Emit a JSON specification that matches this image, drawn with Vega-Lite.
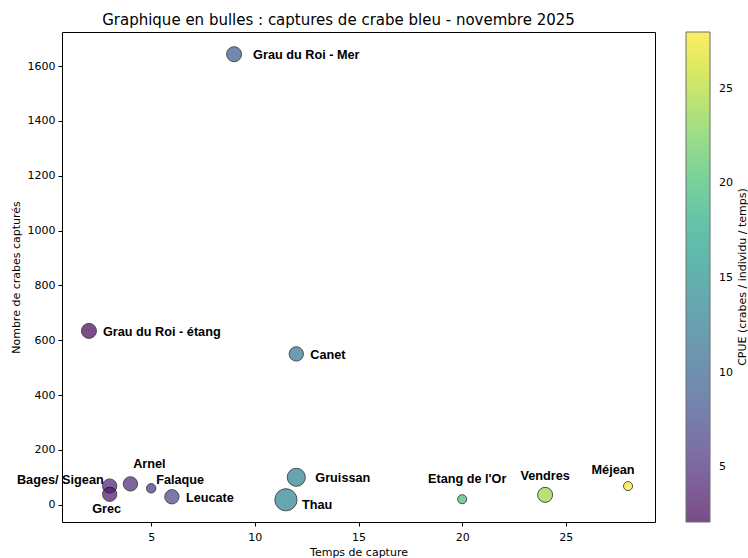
{
  "$schema": "https://vega.github.io/schema/vega-lite/v6.json",
  "width": 593,
  "height": 490,
  "autosize": "none",
  "padding": {"left": 62, "top": 32, "right": 93, "bottom": 36},
  "background": "white",
  "config": {
    "font": "DejaVu Sans",
    "view": {"stroke": "black", "strokeWidth": 1},
    "axis": {
      "grid": false,
      "domain": false,
      "tickColor": "black",
      "tickSize": 4,
      "tickWidth": 1,
      "labelFont": "DejaVu Sans",
      "labelFontSize": 11,
      "labelColor": "black",
      "titleFont": "DejaVu Sans",
      "titleFontSize": 11,
      "titleFontWeight": "normal",
      "titleColor": "black"
    }
  },
  "title": {
    "text": "Graphique en bulles : captures de crabe bleu - novembre 2025",
    "font": "DejaVu Sans",
    "fontSize": 15,
    "fontWeight": "normal",
    "color": "black",
    "anchor": "middle",
    "dx": -20,
    "offset": 4
  },
  "data": {
    "values": [
      {"site": "Grau du Roi - Mer", "temps": 9, "captures": 1643, "cpue": 9, "individus": 5.5},
      {"site": "Grau du Roi - étang", "temps": 2, "captures": 634, "cpue": 2.3, "individus": 5.5},
      {"site": "Canet", "temps": 12, "captures": 550, "cpue": 12, "individus": 5},
      {"site": "Gruissan", "temps": 12, "captures": 100, "cpue": 13, "individus": 8},
      {"site": "Thau", "temps": 11.5, "captures": 18, "cpue": 13.5, "individus": 12},
      {"site": "Leucate", "temps": 6, "captures": 29, "cpue": 7, "individus": 5},
      {"site": "Falaque", "temps": 5, "captures": 60, "cpue": 5.5, "individus": 2.2},
      {"site": "Arnel", "temps": 4, "captures": 76, "cpue": 4.5, "individus": 5},
      {"site": "Bages/ Sigean", "temps": 3, "captures": 68, "cpue": 4, "individus": 5},
      {"site": "Grec", "temps": 3, "captures": 38, "cpue": 3.5, "individus": 5},
      {"site": "Etang de l'Or", "temps": 20, "captures": 20, "cpue": 20, "individus": 2},
      {"site": "Vendres", "temps": 24, "captures": 36, "cpue": 24, "individus": 5.5},
      {"site": "Méjean", "temps": 28, "captures": 68, "cpue": 28, "individus": 2}
    ]
  },
  "encoding": {
    "x": {
      "field": "temps",
      "type": "quantitative",
      "scale": {"domain": [0.7, 29.3], "nice": false, "zero": false},
      "axis": {"title": "Temps de capture", "values": [5, 10, 15, 20, 25], "labelPadding": 5, "titlePadding": 4}
    },
    "y": {
      "field": "captures",
      "type": "quantitative",
      "scale": {"domain": [-63, 1724], "nice": false, "zero": false},
      "axis": {"title": "Nombre de crabes capturés", "format": "d", "values": [0, 200, 400, 600, 800, 1000, 1200, 1400, 1600], "labelPadding": 3, "titlePadding": 6}
    }
  },
  "layer": [
    {
      "mark": {"type": "circle", "opacity": 0.7, "stroke": "black", "strokeWidth": 1},
      "encoding": {
        "size": {"field": "individus", "type": "quantitative", "scale": {"type": "linear", "domain": [0, 12], "range": [0, 491]}, "legend": null},
        "color": {
          "field": "cpue",
          "type": "quantitative",
          "scale": {"scheme": "viridis", "domain": [2.1, 28], "nice": false, "zero": false},
          "legend": {
            "title": "CPUE (crabes / individu / temps)",
            "orient": "right",
            "offset": 31,
            "padding": 0,
            "direction": "vertical",
            "gradientLength": 490,
            "gradientThickness": 24,
            "gradientStrokeColor": "#333",
            "gradientStrokeWidth": 1,
            "values": [5, 10, 15, 20, 25],
            "labelFont": "DejaVu Sans",
            "labelFontSize": 11,
            "labelColor": "black",
            "labelOffset": 9,
            "titleOrient": "right",
            "titleAnchor": "middle",
            "titleFont": "DejaVu Sans",
            "titleFontSize": 11,
            "titleFontWeight": "normal",
            "titleColor": "black",
            "titlePadding": 4,
            "titleLimit": 600,
            "encoding": {"title": {"angle": {"value": -90}, "baseline": {"value": "top"}}}
          }
        }
      }
    },
    {
      "transform": [{"filter": {"field": "site", "oneOf": ["Grau du Roi - étang", "Canet", "Leucate"]}}],
      "mark": {"type": "text", "font": "Liberation Sans", "fontWeight": "bold", "fontSize": 12.7, "color": "black", "align": "left", "baseline": "middle", "dx": 14, "dy": 1},
      "encoding": {"text": {"field": "site"}}
    },
    {
      "transform": [{"filter": {"field": "site", "oneOf": ["Grau du Roi - Mer", "Gruissan"]}}],
      "mark": {"type": "text", "font": "Liberation Sans", "fontWeight": "bold", "fontSize": 12.7, "color": "black", "align": "left", "baseline": "middle", "dx": 19, "dy": 1},
      "encoding": {"text": {"field": "site"}}
    },
    {
      "transform": [{"filter": {"field": "site", "equal": "Thau"}}],
      "mark": {"type": "text", "font": "Liberation Sans", "fontWeight": "bold", "fontSize": 12.7, "color": "black", "align": "left", "baseline": "middle", "dx": 16, "dy": 5},
      "encoding": {"text": {"field": "site"}}
    },
    {
      "transform": [{"filter": {"field": "site", "equal": "Falaque"}}],
      "mark": {"type": "text", "font": "Liberation Sans", "fontWeight": "bold", "fontSize": 12.7, "color": "black", "align": "left", "baseline": "middle", "dx": 5, "dy": -8},
      "encoding": {"text": {"field": "site"}}
    },
    {
      "transform": [{"filter": {"field": "site", "equal": "Arnel"}}],
      "mark": {"type": "text", "font": "Liberation Sans", "fontWeight": "bold", "fontSize": 12.7, "color": "black", "align": "center", "baseline": "middle", "dx": 19, "dy": -20},
      "encoding": {"text": {"field": "site"}}
    },
    {
      "transform": [{"filter": {"field": "site", "equal": "Bages/ Sigean"}}],
      "mark": {"type": "text", "font": "Liberation Sans", "fontWeight": "bold", "fontSize": 12.7, "color": "black", "align": "right", "baseline": "middle", "dx": -6, "dy": -6},
      "encoding": {"text": {"field": "site"}}
    },
    {
      "transform": [{"filter": {"field": "site", "equal": "Grec"}}],
      "mark": {"type": "text", "font": "Liberation Sans", "fontWeight": "bold", "fontSize": 12.7, "color": "black", "align": "center", "baseline": "middle", "dx": -3, "dy": 15},
      "encoding": {"text": {"field": "site"}}
    },
    {
      "transform": [{"filter": {"field": "site", "equal": "Etang de l'Or"}}],
      "mark": {"type": "text", "font": "Liberation Sans", "fontWeight": "bold", "fontSize": 12.7, "color": "black", "align": "center", "baseline": "middle", "dx": 5, "dy": -20},
      "encoding": {"text": {"field": "site"}}
    },
    {
      "transform": [{"filter": {"field": "site", "equal": "Vendres"}}],
      "mark": {"type": "text", "font": "Liberation Sans", "fontWeight": "bold", "fontSize": 12.7, "color": "black", "align": "center", "baseline": "middle", "dx": 0, "dy": -19},
      "encoding": {"text": {"field": "site"}}
    },
    {
      "transform": [{"filter": {"field": "site", "equal": "Méjean"}}],
      "mark": {"type": "text", "font": "Liberation Sans", "fontWeight": "bold", "fontSize": 12.7, "color": "black", "align": "center", "baseline": "middle", "dx": -15, "dy": -16},
      "encoding": {"text": {"field": "site"}}
    }
  ]
}
